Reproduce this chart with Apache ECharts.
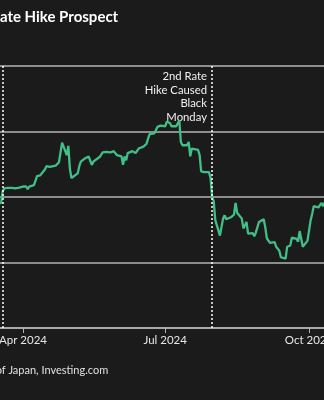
<!DOCTYPE html>
<html>
<head>
<meta charset="utf-8">
<script src="https://cdn.jsdelivr.net/npm/echarts@6/dist/echarts.min.js"></script>
<style>
  html, body { margin: 0; padding: 0; background: #1b1b1b; }
  #chart { width: 324px; height: 400px; }
</style>
</head>
<body>
<div id="chart"></div>
<script>
// USD/JPY daily close around the Bank of Japan rate hikes
const dates = [
  '2024-03-14','2024-03-15','2024-03-18','2024-03-19','2024-03-20','2024-03-21','2024-03-22',
  '2024-03-25','2024-03-26','2024-03-27','2024-03-28','2024-03-29',
  '2024-04-01','2024-04-02','2024-04-03','2024-04-04','2024-04-05',
  '2024-04-08','2024-04-09','2024-04-10','2024-04-11','2024-04-12',
  '2024-04-15','2024-04-16','2024-04-17','2024-04-18','2024-04-19',
  '2024-04-22','2024-04-23','2024-04-24','2024-04-25','2024-04-26',
  '2024-04-29','2024-04-30','2024-05-01','2024-05-02','2024-05-03',
  '2024-05-06','2024-05-07','2024-05-08','2024-05-09','2024-05-10',
  '2024-05-13','2024-05-14','2024-05-15','2024-05-16','2024-05-17',
  '2024-05-20','2024-05-21','2024-05-22','2024-05-23','2024-05-24',
  '2024-05-27','2024-05-28','2024-05-29','2024-05-30','2024-05-31',
  '2024-06-03','2024-06-04','2024-06-05','2024-06-06','2024-06-07',
  '2024-06-10','2024-06-11','2024-06-12','2024-06-13','2024-06-14',
  '2024-06-17','2024-06-18','2024-06-19','2024-06-20','2024-06-21',
  '2024-06-24','2024-06-25','2024-06-26','2024-06-27','2024-06-28',
  '2024-07-01','2024-07-02','2024-07-03','2024-07-04','2024-07-05',
  '2024-07-08','2024-07-09','2024-07-10','2024-07-11','2024-07-12',
  '2024-07-15','2024-07-16','2024-07-17','2024-07-18','2024-07-19',
  '2024-07-22','2024-07-23','2024-07-24','2024-07-25','2024-07-26',
  '2024-07-29','2024-07-30','2024-07-31','2024-08-01','2024-08-02',
  '2024-08-05','2024-08-06','2024-08-07','2024-08-08','2024-08-09',
  '2024-08-12','2024-08-13','2024-08-14','2024-08-15','2024-08-16',
  '2024-08-19','2024-08-20','2024-08-21','2024-08-22','2024-08-23',
  '2024-08-26','2024-08-27','2024-08-28','2024-08-29','2024-08-30',
  '2024-09-02','2024-09-03','2024-09-04','2024-09-05','2024-09-06',
  '2024-09-09','2024-09-10','2024-09-11','2024-09-12','2024-09-13',
  '2024-09-16','2024-09-17','2024-09-18','2024-09-19','2024-09-20',
  '2024-09-23','2024-09-24','2024-09-25','2024-09-26','2024-09-27',
  '2024-09-30','2024-10-01','2024-10-02','2024-10-03','2024-10-04',
  '2024-10-07','2024-10-08','2024-10-09','2024-10-10','2024-10-11',
  '2024-10-14'
];

const usdJpy = [
  148.3,149.0,149.1,150.9,151.3,151.5,151.4,
  151.4,151.5,151.3,151.3,151.4,
  151.6,151.6,151.6,151.2,151.6,
  151.8,151.8,153.2,153.3,153.3,
  154.2,154.7,154.4,154.6,154.6,
  154.8,154.8,155.3,155.6,158.3,
  156.4,157.8,154.3,152.9,152.9,
  153.6,154.7,155.4,155.5,155.8,
  156.2,156.4,154.9,155.4,155.6,
  156.1,156.3,156.8,156.9,156.9,
  156.8,157.1,157.0,156.8,156.4,
  156.2,154.9,156.2,155.6,156.7,
  157.0,157.1,156.7,157.0,157.4,
  157.7,157.9,158.1,158.9,159.6,
  159.7,159.7,160.7,160.8,160.9,
  160.8,161.5,161.5,161.3,160.8,
  160.8,161.2,161.7,158.4,157.9,
  157.9,158.4,156.2,157.4,157.5,
  157.2,156.4,153.9,153.9,153.8,
  153.8,152.9,150.0,149.4,146.5,
  144.1,144.3,146.7,147.2,146.6,
  146.9,146.8,147.3,149.1,147.6,
  146.7,145.2,145.3,146.2,144.4,
  144.5,144.0,144.6,144.9,146.2,
  146.6,145.4,143.7,143.4,143.0,
  143.1,142.4,142.4,141.8,140.8,
  140.6,142.4,142.3,142.6,143.8,
  143.6,143.2,144.8,144.8,142.4,
  143.3,143.6,146.4,147.4,148.6,
  148.4,148.2,149.1,148.6,149.1,
  149.7
];

// month ticks and the two hike dates
const monthTicks = ['2024-04-01', '2024-07-01', '2024-10-01'];
const monthNames = ['Jan','Feb','Mar','Apr','May','Jun','Jul','Aug','Sep','Oct','Nov','Dec'];
const hikeDates = ['2024-03-19', '2024-07-31'];
const hikeNote = ['2nd Rate', 'Hike Caused', 'Black', 'Monday'];

// value axis range
const yMin = 130, yMax = 170, yStep = 10;

// x is measured in days from the left edge of the visible window
const DAY = 86400000;
const utc = s => Date.UTC(+s.slice(0, 4), +s.slice(5, 7) - 1, +s.slice(8, 10));
const origin = utc('2024-04-01') - 14.72 * DAY;
const xDay = s => (utc(s) - origin) / DAY;
const spanDays = 207.3;

const FONT = 'Lato, "Noto Sans", sans-serif';

function textWidth(str, font) {
  const ctx = document.createElement('canvas').getContext('2d');
  ctx.font = font;
  return ctx.measureText(str).width;
}

const titleFont = 'bold 15px Lato';
const noteFont = '11.3px Lato';
const sourceFont = '11px Lato';

const chart = echarts.init(document.getElementById('chart'), null, { renderer: 'canvas' });

chart.setOption({
  backgroundColor: '#1b1b1b',
  animation: false,
  textStyle: { fontFamily: FONT },
  grid: { left: 0, right: 0, top: 66, bottom: 72, containLabel: false, outerBoundsMode: 'none' },
  xAxis: {
    type: 'value',
    min: 0,
    max: spanDays,
    interval: spanDays,
    axisLine: { show: true, lineStyle: { color: '#b4b4b4', width: 1.5 } },
    axisTick: {
      show: true, length: 5, lineStyle: { color: '#b4b4b4', width: 1 },
      customValues: monthTicks.map(xDay)
    },
    axisLabel: {
      color: '#e6e6e6', fontSize: 11.5, fontFamily: FONT, margin: 6,
      hideOverlap: false,
      customValues: monthTicks.map(xDay),
      formatter: v => {
        const d = new Date(origin + v * DAY + DAY / 2);
        return monthNames[d.getUTCMonth()] + ' ' + d.getUTCFullYear();
      }
    },
    splitLine: { show: false }
  },
  yAxis: {
    type: 'value',
    min: yMin, max: yMax, interval: yStep,
    axisLine: { show: false },
    axisTick: { show: false },
    axisLabel: { show: false },
    splitLine: { show: true, lineStyle: { color: '#b4b4b4', width: 1.5 } }
  },
  series: [{
    type: 'line',
    data: dates.map((d, i) => [xDay(d), usdJpy[i]]),
    showSymbol: false,
    symbol: 'none',
    clip: true,
    lineStyle: { color: '#40bf86', width: 2.3 },
    markLine: {
      silent: true,
      symbol: 'none',
      label: { show: false },
      lineStyle: { color: '#ffffff', type: [2, 2], width: 1.5 },
      data: hikeDates.map(d => ({ xAxis: xDay(d) }))
    }
  }],
  graphic: [
    {
      type: 'text',
      x: -textWidth('R', titleFont),
      y: 10,
      style: { text: 'Rate Hike Prospect', fill: '#ffffff', font: titleFont }
    },
    {
      type: 'text',
      x: 207, y: 70,
      style: {
        text: hikeNote.join('\n'), fill: '#f2f2f2', font: noteFont,
        align: 'right', verticalAlign: 'top', lineHeight: 13.5
      }
    },
    {
      type: 'text',
      x: -textWidth('o', sourceFont) * 0.7,
      y: 365,
      style: { text: 'of Japan, Investing.com', fill: '#e0e0e0', font: sourceFont }
    }
  ]
});
</script>
</body>
</html>
